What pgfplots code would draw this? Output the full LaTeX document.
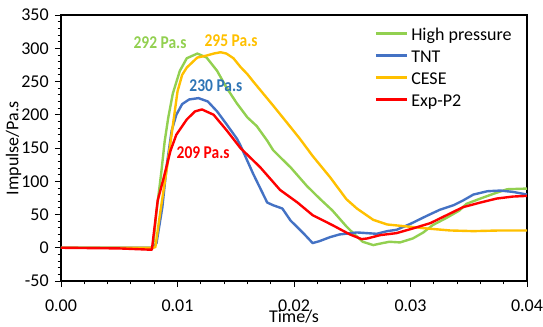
\documentclass[border=0pt]{standalone}
\usepackage{fontspec}
\setmainfont{Carlito}
\usepackage{graphicx}
\usepackage{pgfplots}
\pgfplotsset{compat=1.18}
\definecolor{cgreen}{RGB}{146,208,80}
\definecolor{cblue}{RGB}{68,114,196}
\definecolor{cblab}{RGB}{46,117,182}
\definecolor{cyellow}{RGB}{255,192,0}
\definecolor{cred}{RGB}{255,0,0}
\newcommand{\lab}[1]{\scalebox{0.86}[1]{\bfseries #1}}
\begin{document}
\fontsize{13.5}{16}\selectfont
\begin{tikzpicture}
\begin{axis}[
  scale only axis,
  width=349.5pt, height=199.5pt,
  xmin=0, xmax=0.04, ymin=-50, ymax=350,
  xtick={0,0.01,0.02,0.03,0.04},
  ytick={-50,0,50,100,150,200,250,300,350},
  minor x tick num=4, minor y tick num=4,
  scaled x ticks=false,
  tick align=outside, tick pos=left,
  major tick length=4.5pt, minor tick length=2.5pt,
  every tick/.style={black, line width=0.6pt},
  axis line style={black, line width=0.8pt},
  /pgf/number format/assume math mode=true,
  xticklabel style={yshift=-5pt, /pgf/number format/.cd, fixed, fixed zerofill, precision=2},
  yticklabel style={/pgf/number format/.cd, fixed, precision=0},
  ticklabel style={font=\fontsize{13.5}{16}\selectfont},
  label style={font=\fontsize{13.5}{16}\selectfont},
  xlabel={Time/s}, ylabel={Impulse/Pa.s},
  xlabel style={at={(axis description cs:0.5,-0.1568)}, anchor=base},
  ylabel style={at={(axis description cs:-0.0912,0.5)}, anchor=base},
  legend style={at={(0.6727,0.966)}, anchor=north west, draw=none, fill=none,
    inner sep=0pt, font=\fontsize{13.5}{16}\selectfont, row sep=3pt,
    nodes={inner xsep=2.6pt, inner ysep=0pt, text height=12pt, text depth=1.5pt}},
  legend cell align=left,
  legend image code/.code={\draw[#1] (0pt,0pt) -- (23pt,0pt);},
  every axis plot/.append style={line width=1.8pt, line join=round},
]
\addplot[cgreen] coordinates {
(0,0) (0.0077,0) (0.0079,1) (0.0082,55) (0.0086,112) (0.0089,160) (0.0092,195)
(0.0096,232) (0.0102,266) (0.0108,285) (0.0117,292) (0.0125,286) (0.0134,266)
(0.0142,241) (0.0151,217) (0.0160,196) (0.0168,183) (0.0177,161) (0.0182,147)
(0.0190,133) (0.0197,121) (0.0211,93) (0.0222,74) (0.0233,56) (0.0245,32)
(0.0252,20) (0.0259,9) (0.0268,4) (0.0276,7) (0.0282,9) (0.0291,8) (0.0302,14)
(0.0311,23) (0.0319,34) (0.0331,45) (0.0342,56) (0.0348,66) (0.0360,74)
(0.0371,81) (0.0383,88) (0.0400,89)};
\addlegendentry{High pressure}
\addplot[cblue] coordinates {
(0,0) (0.0079,0) (0.0082,7) (0.0087,61) (0.0091,127) (0.0095,176) (0.0099,200)
(0.0104,216) (0.0110,223) (0.0118,225) (0.0126,220) (0.0134,205) (0.0142,186)
(0.0151,164) (0.0154,154) (0.0165,111) (0.0177,68) (0.0182,64) (0.0190,59)
(0.0197,41) (0.0208,22) (0.0216,7) (0.0222,10) (0.0231,16) (0.0239,20)
(0.0254,23) (0.0271,21) (0.0280,25) (0.0288,27) (0.0300,36) (0.0314,48)
(0.0325,57) (0.0337,64) (0.0345,71) (0.0354,80) (0.0366,85) (0.0377,86)
(0.0388,84) (0.0400,80)};
\addlegendentry{TNT}
\addplot[cyellow] coordinates {
(0,0) (0.0079,0) (0.0081,1) (0.0085,51) (0.0091,121) (0.0095,171) (0.0100,235)
(0.0104,260) (0.0108,271) (0.0117,286) (0.0125,289) (0.0131,292) (0.0137,294)
(0.0142,292) (0.0148,285) (0.0154,272) (0.0160,261) (0.0165,250) (0.0182,214)
(0.0194,188) (0.0205,164) (0.0216,138) (0.0231,106) (0.0245,73) (0.0254,59)
(0.0268,42) (0.0280,35) (0.0297,32) (0.0314,29) (0.0334,26) (0.0354,25)
(0.0377,26) (0.0400,26)};
\addlegendentry{CESE}
\addplot[cred] coordinates {
(0,0) (0.0050,-1) (0.0078,-3) (0.0083,71) (0.0088,104) (0.0094,146) (0.0099,170)
(0.0108,193) (0.0115,205) (0.0121,208) (0.0131,200) (0.0142,177) (0.0154,150)
(0.0171,121) (0.0188,87) (0.0203,68) (0.0216,49) (0.0233,34) (0.0248,20)
(0.0258,13) (0.0263,14) (0.0274,19) (0.0288,22) (0.0302,29) (0.0317,37)
(0.0331,49) (0.0345,61) (0.0360,68) (0.0374,74) (0.0388,77) (0.0400,78)};
\addlegendentry{Exp-P2}
\node[text=cgreen] at (axis cs:0.0085,309) {\lab{292 Pa.s}};
\node[text=cyellow] at (axis cs:0.0146,311) {\lab{295 Pa.s}};
\node[text=cblab] at (axis cs:0.0133,244) {\lab{230 Pa.s}};
\node[text=cred] at (axis cs:0.0122,143) {\lab{209 Pa.s}};
\end{axis}
\pgfresetboundingbox
\path[use as bounding box] ([xshift=-45.75pt,yshift=-33.75pt]current axis.south west) rectangle ([xshift=12pt,yshift=11.25pt]current axis.north east);
\end{tikzpicture}
\end{document}
